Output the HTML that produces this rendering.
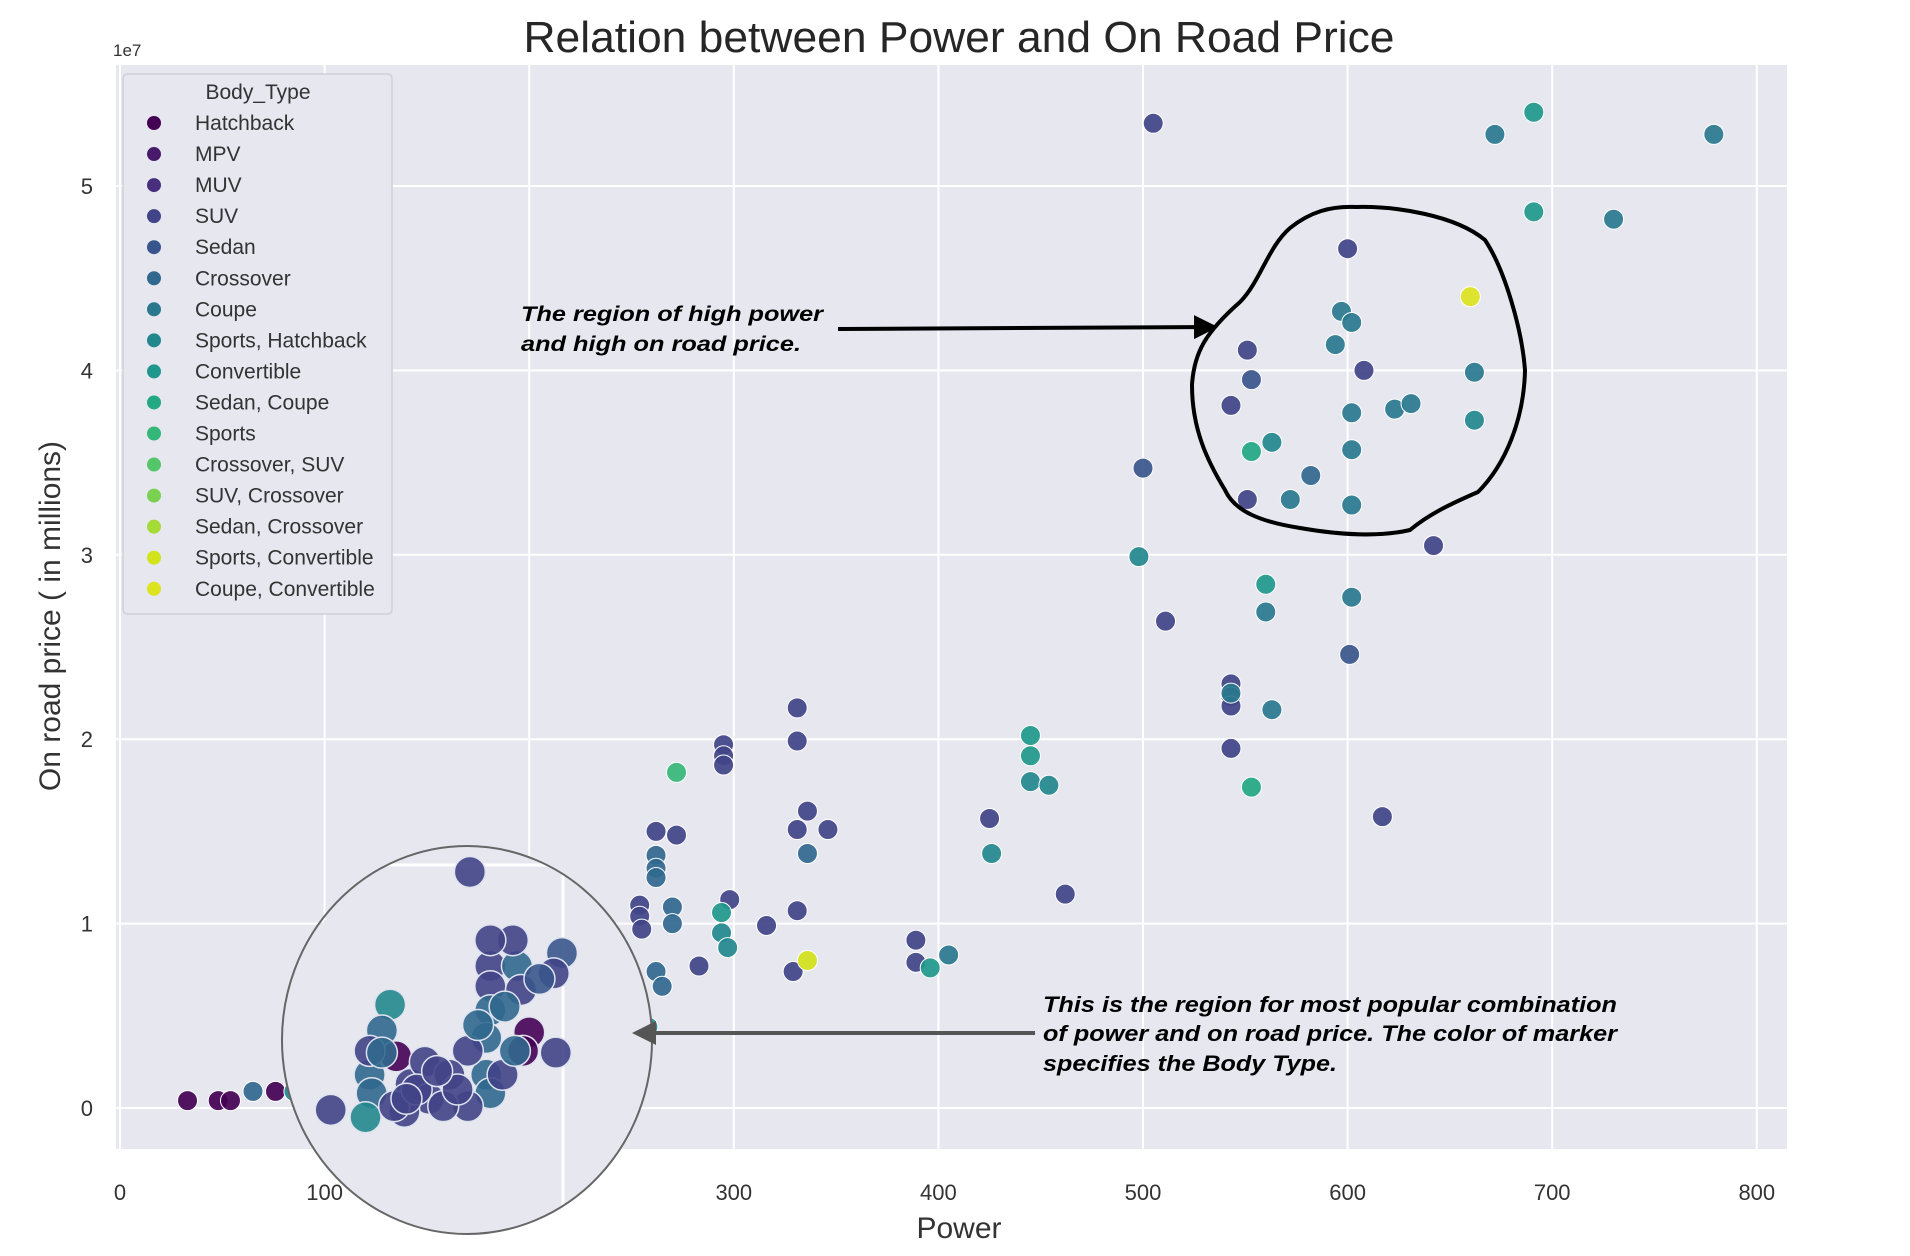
<!DOCTYPE html>
<html><head><meta charset="utf-8"><style>
html,body{margin:0;padding:0;background:#fff;}
svg{display:block;font-family:"Liberation Sans",sans-serif;}
</style></head><body>
<svg id="chart" width="1910" height="1256" viewBox="0 0 1910 1256" xmlns="http://www.w3.org/2000/svg">
<defs>
<clipPath id="plotClip"><rect x="116" y="65" width="1671" height="1084"/></clipPath>
<clipPath id="magClip"><ellipse cx="467" cy="1040" rx="185" ry="194"/></clipPath>
<marker id="ahBlack" markerWidth="6" markerHeight="6" refX="5" refY="3" orient="auto" markerUnits="strokeWidth"><path d="M0,0 L6,3 L0,6 z" fill="#000"/></marker>
<marker id="ahGray" markerWidth="6" markerHeight="6" refX="5" refY="3" orient="auto" markerUnits="strokeWidth"><path d="M0,0 L6,3 L0,6 z" fill="#555"/></marker>
</defs>
<rect x="116" y="65" width="1671" height="1084" fill="#e7e7f0"/>
<g id="grid"></g>
<g id="points" clip-path="url(#plotClip)"></g>
<g id="yticks" font-size="22" fill="#333" text-anchor="end"></g>
<g id="xticks" font-size="22" fill="#333" text-anchor="middle"></g>
<text x="959" y="52" font-size="44" fill="#262626" text-anchor="middle" textLength="871" lengthAdjust="spacingAndGlyphs">Relation between Power and On Road Price</text>
<text x="113" y="56" font-size="17" fill="#333">1e7</text>
<text x="959" y="1238" font-size="30" fill="#333" text-anchor="middle">Power</text>
<text transform="translate(60,616) rotate(-90)" font-size="30" fill="#333" text-anchor="middle">On road price ( in millions)</text>
<g id="legend">
<rect x="123" y="74" width="269" height="540" rx="4" fill="#e7e7f0" stroke="#d0d0d8" stroke-width="1.5"/>
<text x="258" y="99" font-size="21" fill="#333" text-anchor="middle">Body_Type</text>
</g>
<g id="mag">
<ellipse cx="467" cy="1040" rx="185" ry="194" fill="#e7e7f0"/>
<g clip-path="url(#magClip)" stroke="#fff" stroke-width="3">
<line x1="370" y1="865" x2="563" y2="865"/><line x1="563" y1="865" x2="563" y2="1240"/>
<line x1="324" y1="840" x2="324" y2="920"/><line x1="270" y1="921" x2="324" y2="921"/>
</g>
<g id="magPoints" clip-path="url(#magClip)"></g>
<ellipse cx="467" cy="1040" rx="185" ry="194" fill="none" stroke="#666" stroke-width="2"/>
</g>
<path fill="none" stroke="#000" stroke-width="4" stroke-linejoin="round"
 d="M1356,207 C1395,206 1455,215 1485,240 C1505,270 1522,330 1525,370 C1524,420 1505,465 1478,492 C1448,505 1428,515 1410,530 C1380,537 1340,535 1300,528 C1262,522 1235,512 1225,490 C1208,462 1192,430 1192,385 C1194,352 1206,332 1240,302 C1260,282 1268,247 1290,228 C1310,212 1330,206 1356,207 Z"/>
<line x1="838" y1="329" x2="1214" y2="327" stroke="#000" stroke-width="4" marker-end="url(#ahBlack)"/>
<text font-size="21" font-weight="bold" font-style="italic" fill="#000"><tspan x="521" y="321" textLength="302" lengthAdjust="spacingAndGlyphs">The region of high power</tspan><tspan x="521" y="351" textLength="280" lengthAdjust="spacingAndGlyphs">and high on road price.</tspan></text>
<line x1="1035" y1="1033" x2="636" y2="1033" stroke="#555" stroke-width="4" marker-end="url(#ahGray)"/>
<text font-size="22" font-weight="bold" font-style="italic" fill="#000"><tspan x="1043" y="1012" textLength="574" lengthAdjust="spacingAndGlyphs">This is the region for most popular combination</tspan><tspan x="1043" y="1041" textLength="574" lengthAdjust="spacingAndGlyphs">of power and on road price. The color of marker</tspan><tspan x="1043" y="1071" textLength="294" lengthAdjust="spacingAndGlyphs">specifies the Body Type.</tspan></text>
</svg>
<script>
const categories = ["Hatchback","MPV","MUV","SUV","Sedan","Crossover","Coupe","Sports, Hatchback","Convertible","Sedan, Coupe","Sports","Crossover, SUV","SUV, Crossover","Sedan, Crossover","Sports, Convertible","Coupe, Convertible"];
const palette = ["#440154","#481a6c","#472f7d","#414487","#39568c","#31688e","#2a788e","#23888e","#1f988b","#22a884","#35b779","#54c568","#7ad151","#a5db36","#d2e21b","#dde31e"];
const xTicks = [0,100,200,300,400,500,600,700,800];
const yTicks = [0,1,2,3,4,5];
const power = [505,672,691,779,691,730,600,660,597,602,551,594,608,662,553,543,602,623,631,662,563,553,602,500,582,551,572,602,498,642,560,511,560,602,601,543,543,543,543,563,543,553,617,445,445,445,454,425,426,462,331,331,295,295,295,272,336,331,346,336,262,272,262,262,262,298,254,254,270,270,255,294,294,297,316,331,283,329,336,389,389,396,405,262,265,258,33,48,54,65,76,85,89];
const price = [5.34,5.28,5.40,5.28,4.86,4.82,4.66,4.40,4.32,4.26,4.11,4.14,4.00,3.99,3.95,3.81,3.77,3.79,3.82,3.73,3.61,3.56,3.57,3.47,3.43,3.30,3.30,3.27,2.99,3.05,2.84,2.64,2.69,2.77,2.46,2.30,2.23,2.18,2.25,2.16,1.95,1.74,1.58,2.02,1.91,1.77,1.75,1.57,1.38,1.16,2.17,1.99,1.97,1.91,1.86,1.82,1.61,1.51,1.51,1.38,1.50,1.48,1.37,1.30,1.25,1.13,1.10,1.04,1.09,1.00,0.97,1.06,0.95,0.87,0.99,1.07,0.77,0.74,0.80,0.91,0.79,0.76,0.83,0.74,0.66,0.44,0.04,0.04,0.04,0.09,0.09,0.09,0.13];
const bodyType = [3,6,8,6,8,6,3,15,6,6,3,6,3,6,4,3,6,6,6,7,7,9,6,4,5,3,6,6,7,3,8,3,6,6,4,3,3,3,6,6,3,9,3,8,8,7,7,3,7,3,3,3,3,3,3,10,3,3,3,5,3,3,5,5,5,3,3,3,5,5,3,8,7,7,3,3,3,3,14,3,3,8,6,5,5,7,0,0,0,5,0,7,5];
const magPower = [171,216,212,181,181,181,194,196,200,197,213,179,179,181,170,132,128,135,122,123,120,142,149,161,151,139,170,187,193,122,134,158,103,192,181,205,145,165,128,175,188,155,140];
const magPrice = [1.28,0.84,0.73,0.77,0.66,0.53,0.77,0.64,0.41,0.31,0.30,0.38,0.18,0.08,0.31,0.56,0.42,0.28,0.18,0.08,-0.05,0.13,0.25,0.18,0.05,-0.02,0.01,0.18,0.31,0.31,0.01,0.01,-0.01,0.91,0.91,0.70,0.10,0.10,0.30,0.45,0.55,0.20,0.05];
const magType = [3,4,3,3,3,5,5,3,0,0,3,5,5,5,3,7,5,0,5,5,7,3,3,3,3,3,3,3,5,3,3,3,3,3,3,4,3,3,5,5,5,3,3];

const X0=120, XS=2.046, Y0=1108, YS=184.4;
function xScale(v){return X0+v*XS;}
function yScale(v){return Y0-v*YS;}
const NS="http://www.w3.org/2000/svg";
const grid=document.getElementById('grid');
xTicks.forEach(t=>{
  const l=document.createElementNS(NS,'line');
  
  
  l.setAttribute('x1',xScale(t));l.setAttribute('x2',xScale(t));l.setAttribute('y1',65);l.setAttribute('y2',1149);
  l.setAttribute('stroke','#fff');l.setAttribute('stroke-width','2');grid.appendChild(l);
  const tx=document.createElementNS(NS,'text');
  
  
  tx.setAttribute('x',xScale(t));tx.setAttribute('y',1200);tx.textContent=t;
  document.getElementById('xticks').appendChild(tx);
});
yTicks.forEach(t=>{
  const l=document.createElementNS(NS,'line');
  
  
  l.setAttribute('x1',116);l.setAttribute('x2',1787);l.setAttribute('y1',yScale(t));l.setAttribute('y2',yScale(t));
  l.setAttribute('stroke','#fff');l.setAttribute('stroke-width','2');grid.appendChild(l);
  const tx=document.createElementNS(NS,'text');
  
  
  tx.setAttribute('x',93);tx.setAttribute('y',yScale(t)+8);tx.textContent=t;
  document.getElementById('yticks').appendChild(tx);
});
const pts=document.getElementById('points');
power.forEach((p,i)=>{
  const c=document.createElementNS(NS,'circle');
  
  
  c.setAttribute('cx',xScale(p));c.setAttribute('cy',yScale(price[i]));c.setAttribute('r',10);
  c.setAttribute('fill',palette[bodyType[i]]);c.setAttribute('stroke','#fff');c.setAttribute('stroke-width','1');c.setAttribute('fill-opacity','0.92');
  pts.appendChild(c);
});
const mp=document.getElementById('magPoints');
magPower.forEach((p,i)=>{
  const c=document.createElementNS(NS,'circle');
  
  
  c.setAttribute('cx',xScale(p));c.setAttribute('cy',yScale(magPrice[i]));c.setAttribute('r',15.5);
  c.setAttribute('fill',palette[magType[i]]);c.setAttribute('stroke','#dfe3ee');c.setAttribute('stroke-width','1.5');c.setAttribute('fill-opacity','0.9');
  mp.appendChild(c);
});
const lg=document.getElementById('legend');
categories.forEach((name,i)=>{
  const y=123+i*31.05;
  const c=document.createElementNS(NS,'circle');
  
  
  c.setAttribute('cx',154);c.setAttribute('cy',y);c.setAttribute('r',7);c.setAttribute('fill',palette[i]);
  lg.appendChild(c);
  const t=document.createElementNS(NS,'text');
  
  
  t.setAttribute('x',195);t.setAttribute('y',y+7);t.setAttribute('font-size','21');t.setAttribute('fill','#333');
  t.textContent=name;lg.appendChild(t);
});
</script>
</body></html>
